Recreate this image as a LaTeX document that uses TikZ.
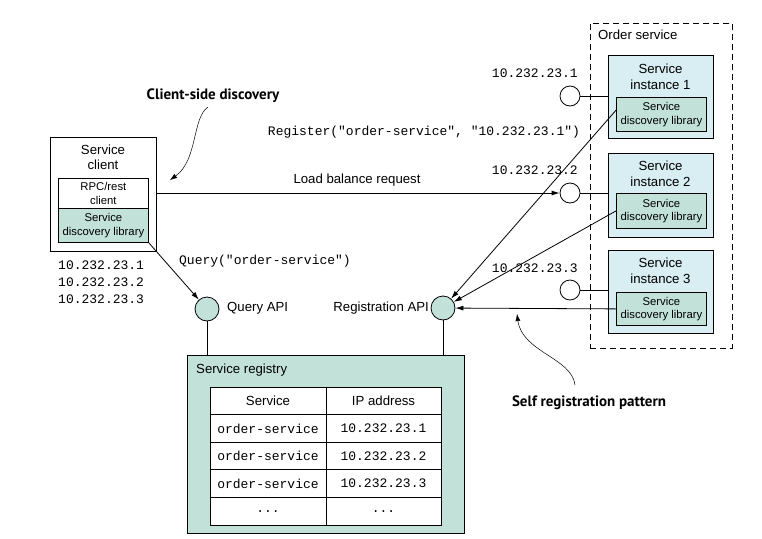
\documentclass[tikz,border=0pt]{standalone}
\usepackage{fontspec}
\setmainfont{Liberation Sans}
\setmonofont{Liberation Mono}
\newfontfamily\labfont{PT Sans}
\usetikzlibrary{arrows.meta,calc}
\definecolor{regteal}{HTML}{C1E1D9}
\definecolor{instblue}{HTML}{D8EEF2}
\tikzset{
  box/.style={draw, line width=0.8pt, inner sep=0pt, anchor=north west},
  txt/.style={font=\fontsize{13.2}{15.5}\selectfont, align=center, inner sep=0pt},
  small/.style={font=\fontsize{11.3}{13.5}\selectfont, align=center, inner sep=0pt},
  mono/.style={font=\ttfamily\fontsize{13}{17}\selectfont, inner sep=0pt},
  boldlab/.style={font=\labfont\bfseries\fontsize{15}{18}\selectfont, inner sep=0pt},
  port/.style={draw, circle, line width=0.8pt, inner sep=0pt},
  arr/.style={line width=0.8pt, -{Latex[length=8pt,width=5pt]}},
  conn/.style={line width=0.8pt},
  cell/.style={draw, line width=0.8pt, fill=white, minimum height=27.6pt, inner sep=0pt},
}
\begin{document}
\begin{tikzpicture}[x=1pt,y=-1pt]
\useasboundingbox (0,0) rectangle (762,538);

% ---- service client
\node[box, minimum width=106pt, minimum height=114pt] (client) at (50,137) {};
\node[txt] (clientlab) at (103,157.5) {Service\\client};
\node[box, minimum width=90pt, minimum height=30pt, fill=white] (rpc) at (58,178) {};
\node[small] (rpclab) at (rpc.center) {RPC/rest\\client};
\node[box, minimum width=90pt, minimum height=34pt, fill=regteal] (clib) at (58,208) {};
\node[small] (cliblab) at (clib.center) {Service\\discovery library};

\node[mono, anchor=west] (cip1) at (58,265) {10.232.23.1};
\node[mono, anchor=west] (cip2) at (58,282) {10.232.23.2};
\node[mono, anchor=west] (cip3) at (58,299) {10.232.23.3};

% ---- order service
\node[box, dash pattern=on 6pt off 4pt, minimum width=142pt, minimum height=325pt] (order) at (590,23) {};
\node[txt, anchor=west] (orderlab) at (598,35) {Order service};

\node[box, fill=instblue, minimum width=105pt, minimum height=83pt] (inst1) at (608,55) {};
\node[txt] (inst1lab) at (660.5,77) {Service\\instance 1};
\node[box, fill=regteal, minimum width=90pt, minimum height=34pt] (lib1) at (616,97) {};
\node[small] (lib1lab) at (lib1.center) {Service\\discovery library};

\node[box, fill=instblue, minimum width=105pt, minimum height=84pt] (inst2) at (608,153) {};
\node[txt] (inst2lab) at (660.5,174) {Service\\instance 2};
\node[box, fill=regteal, minimum width=90pt, minimum height=35pt] (lib2) at (616,193) {};
\node[small] (lib2lab) at (lib2.center) {Service\\discovery library};

\node[box, fill=instblue, minimum width=105pt, minimum height=83pt] (inst3) at (608,250) {};
\node[txt] (inst3lab) at (660.5,271) {Service\\instance 3};
\node[box, fill=regteal, minimum width=90pt, minimum height=33pt] (lib3) at (616,292) {};
\node[small] (lib3lab) at (lib3.center) {Service\\discovery library};

\node[port, fill=white, minimum size=20pt] (c1) at (570,96) {};
\node[port, fill=white, minimum size=20pt] (c2) at (570,193) {};
\node[port, fill=white, minimum size=20pt] (c3) at (570,290) {};
\draw[conn] (c1.east) -- (c1.east -| inst1.west);
\draw[conn] (c2.east) -- (c2.east -| inst2.west);
\draw[conn] (c3.east) -- (c3.east -| inst3.west);

\node[mono, anchor=east] (ip1) at (578,73) {10.232.23.1};
\node[mono, anchor=east] (ip2) at (578,170) {10.232.23.2};
\node[mono, anchor=east] (ip3) at (578,268) {10.232.23.3};

% ---- APIs
\node[port, fill=regteal, minimum size=24pt] (qa) at (207,309) {};
\node[txt, anchor=west] (qalab) at (227,308) {Query API};
\node[port, fill=regteal, minimum size=24pt] (ra) at (443,308) {};
\node[txt, anchor=east] (ralab) at (429,308) {Registration API};

% ---- registry
\node[box, fill=regteal, minimum width=277pt, minimum height=178pt] (reg) at (187,355) {};
\node[txt, anchor=west] (reglab) at (196,370) {Service registry};
\draw[conn] (qa.south) -- (qa.south |- reg.north);
\draw[conn] (ra.south) -- (ra.south |- reg.north);

\node[cell, minimum width=116pt, font=\fontsize{13.2}{15}\selectfont] (h1) at (268,400.8) {Service};
\node[cell, minimum width=115pt, font=\fontsize{13.2}{15}\selectfont] (h2) at (383.5,400.8) {IP address};
\node[cell, minimum width=116pt, font=\ttfamily\fontsize{13}{15}\selectfont] (r1a) at (268,428.4) {order-service};
\node[cell, minimum width=115pt, font=\ttfamily\fontsize{13}{15}\selectfont] (r1b) at (383.5,428.4) {10.232.23.1};
\node[cell, minimum width=116pt, font=\ttfamily\fontsize{13}{15}\selectfont] (r2a) at (268,456) {order-service};
\node[cell, minimum width=115pt, font=\ttfamily\fontsize{13}{15}\selectfont] (r2b) at (383.5,456) {10.232.23.2};
\node[cell, minimum width=116pt, font=\ttfamily\fontsize{13}{15}\selectfont] (r3a) at (268,483.6) {order-service};
\node[cell, minimum width=115pt, font=\ttfamily\fontsize{13}{15}\selectfont] (r3b) at (383.5,483.6) {10.232.23.3};
\node[cell, minimum width=116pt, font=\ttfamily\fontsize{13}{15}\selectfont] (r4a) at (268,511.2) {...};
\node[cell, minimum width=115pt, font=\ttfamily\fontsize{13}{15}\selectfont] (r4b) at (383.5,511.2) {...};

% ---- connectors
\draw[arr] (client.east |- c2.west) -- (c2.west);
\node[txt] (lblab) at (357,180) {Load balance request};
\draw[arr] (clib.south east) -- (qa);
\node[mono] (qlab) at (265,261) {Query("order-service")};
\draw[arr] ($(lib1.north west)!0.38!(lib1.south west)$) -- (ra);
\draw[arr] (lib2.west) -- (ra);
\draw[arr] (lib3.west) -- (ra);
\node[mono] (rlab) at (424,132) {Register("order-service", "10.232.23.1")};

% ---- annotations
\node[boldlab] (cdlab) at (213,96) {Client-side discovery};
\coordinate (cdA) at (208,107);
\coordinate (cdB) at (170,180);
\draw[line width=0.5pt, -{Latex[length=7pt,width=5pt]}] (cdA) .. controls (192,118) and (198,160) .. (cdB);

\node[boldlab] (srlab) at (589,403) {Self registration pattern};
\coordinate (srA) at (575,385);
\coordinate (srB) at (517,314);
\draw[line width=0.5pt, -{Latex[length=7pt,width=5pt]}] (srA) .. controls (572,358) and (522,352) .. (srB);
\end{tikzpicture}
\end{document}
